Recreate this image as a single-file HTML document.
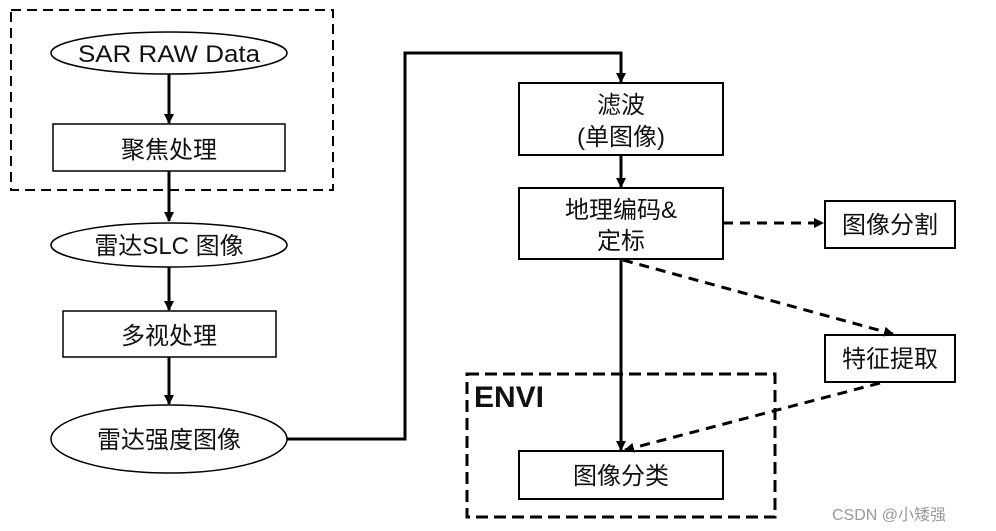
<!DOCTYPE html>
<html><head><meta charset="utf-8"><style>
html,body{margin:0;padding:0;background:#fff;}
svg{display:block;}
text{font-family:"Liberation Sans","Noto Sans CJK SC",sans-serif;fill:#111;}
</style></head><body>
<svg width="996" height="531" viewBox="0 0 996 531" xmlns="http://www.w3.org/2000/svg">
<defs>
<marker id="a" markerWidth="10" markerHeight="10" refX="9" refY="5" orient="auto" markerUnits="userSpaceOnUse">
<path d="M0,0 L10,5 L0,10 z" fill="#000"/></marker>
</defs>
<g fill="none" stroke="#000">
<rect x="11" y="10" width="322" height="180" stroke-width="2" stroke-dasharray="10,6"/>
<rect x="467" y="374" width="308" height="143" stroke-width="3" stroke-dasharray="12,6"/>
<ellipse cx="169" cy="53" rx="118" ry="21" stroke-width="1.5"/>
<rect x="53" y="124" width="232" height="47" stroke-width="1.5"/>
<ellipse cx="169" cy="245" rx="118" ry="22" stroke-width="1.5"/>
<rect x="63" y="311" width="213" height="46" stroke-width="1.5"/>
<ellipse cx="169" cy="439" rx="118" ry="34" stroke-width="1.5"/>
<g stroke-width="3">
<line x1="169" y1="74" x2="169" y2="123" marker-end="url(#a)"/>
<line x1="169" y1="171" x2="169" y2="221" marker-end="url(#a)"/>
<line x1="169" y1="267" x2="169" y2="310" marker-end="url(#a)"/>
<line x1="169" y1="357" x2="169" y2="404" marker-end="url(#a)"/>
<polyline points="287,439 405,439 405,53 621,53 621,82" marker-end="url(#a)"/>
<line x1="621" y1="155" x2="621" y2="187" marker-end="url(#a)"/>
<line x1="621" y1="259" x2="621" y2="450" marker-end="url(#a)"/>
</g>
<rect x="519" y="83" width="204" height="72" stroke-width="2"/>
<rect x="519" y="188" width="204" height="71" stroke-width="2"/>
<rect x="825" y="201" width="130" height="47" stroke-width="2"/>
<rect x="825" y="335" width="130" height="47" stroke-width="2"/>
<rect x="519" y="451" width="204" height="48" stroke-width="2"/>
<g stroke-width="3" stroke-dasharray="10,7">
<line x1="723" y1="223" x2="823" y2="223" marker-end="url(#a)"/>
<line x1="623" y1="260" x2="893" y2="334" marker-end="url(#a)"/>
<line x1="880" y1="383" x2="625" y2="450" marker-end="url(#a)"/>
</g>
</g>
<g font-size="24" text-anchor="middle">
<text x="169" y="62" textLength="182" lengthAdjust="spacingAndGlyphs">SAR RAW Data</text>
<text x="169" y="158">聚焦处理</text>
<text x="169" y="254">雷达SLC 图像</text>
<text x="169" y="344">多视处理</text>
<text x="169" y="448">雷达强度图像</text>
<text x="621" y="113">滤波</text>
<text x="621" y="145">(单图像)</text>
<text x="621" y="218">地理编码&amp;</text>
<text x="621" y="249">定标</text>
<text x="890" y="233">图像分割</text>
<text x="890" y="367">特征提取</text>
<text x="621" y="484">图像分类</text>
</g>
<text x="474" y="407" font-size="30" font-weight="bold">ENVI</text>
<text x="832" y="520" font-size="16" style="fill:#999">CSDN @小矮强</text>
</svg>
</body></html>
